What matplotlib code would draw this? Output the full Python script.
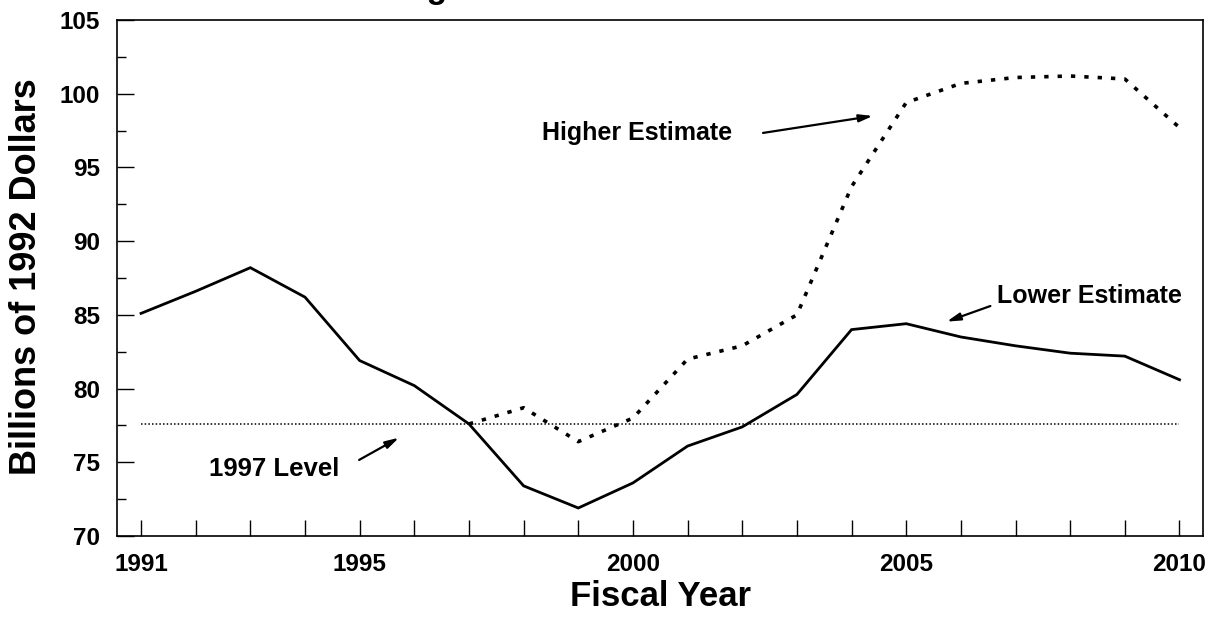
import matplotlib
matplotlib.use("Agg")
import matplotlib.pyplot as plt
from matplotlib.ticker import MultipleLocator

plt.rcParams['font.family'] = ['Liberation Sans', 'DejaVu Sans']

years = list(range(1991, 2011))
lower_estimate = [85.1, 86.6, 88.2, 86.2, 81.9, 80.2, 77.6, 73.4, 71.9, 73.6,
                  76.1, 77.4, 79.6, 84.0, 84.4, 83.5, 82.9, 82.4, 82.2, 80.6]
higher_years = list(range(1997, 2011))
higher_estimate = [77.6, 78.7, 76.4, 78.0, 82.0, 82.9, 85.0, 93.7, 99.4, 100.7,
                   101.1, 101.2, 101.0, 97.7]
level_1997 = 77.6

x_tick_labels = ['1991', '1995', '2000', '2005', '2010']
x_tick_label_pos = [1991, 1995, 2000, 2005, 2010]

fig = plt.figure(figsize=(12.18, 6.21), dpi=100)
ax = fig.add_axes([117/1218, 1 - 536/621, (1203 - 117)/1218, (536 - 20)/621])

ax.plot(years, lower_estimate, color='black', lw=2.0, solid_joinstyle='miter')
ax.plot(higher_years, higher_estimate, color='black', lw=2.6,
        linestyle=(0, (1.2, 2.5)), dash_capstyle='butt')
ax.plot([years[0], years[-1]], [level_1997, level_1997], color='black', lw=1.1,
        linestyle=(0, (1.0, 1.4)))

ax.set_xlim(1990.56, 2010.43)
ax.set_ylim(70, 105)

ax.set_xticks(years)
ax.set_xticklabels([x_tick_labels[x_tick_label_pos.index(y)] if y in x_tick_label_pos else ''
                    for y in years])
ax.yaxis.set_major_locator(MultipleLocator(5))
ax.yaxis.set_minor_locator(MultipleLocator(2.5))

ax.tick_params(axis='x', direction='in', length=11.5, width=1.0, pad=12,
               labelsize=17.5, top=False)
ax.tick_params(axis='y', which='major', direction='in', length=12, width=1.0,
               pad=12, labelsize=17.5, right=False)
ax.tick_params(axis='y', which='minor', direction='in', length=6.5, width=1.0,
               right=False)
for lab in ax.get_xticklabels() + ax.get_yticklabels():
    lab.set_fontweight('bold')

for s in ax.spines.values():
    s.set_linewidth(1.2)

fig.text(27/1218, 1 - 277/621, 'Billions of 1992 Dollars', rotation=90,
         ha='center', va='center', fontsize=26, fontweight='bold')
fig.text(660/1218, 1 - 597/621, 'Fiscal Year', ha='center', va='center',
         fontsize=25, fontweight='bold')

# title, cut off by the top edge of the page (only a descender shows)
fig.text(448/1218, 1 + 2/621, 'Funding', ha='right', va='baseline',
         fontsize=24, fontweight='bold')

arrow = dict(arrowstyle='-|>,head_length=0.8,head_width=0.22', lw=1.6,
             color='black', shrinkA=0, shrinkB=0)

ax.annotate('', xy=(2004.39, 98.49), xytext=(2002.38, 97.34), arrowprops=arrow)
ax.text(2001.81, 97.34, 'Higher Estimate', ha='right', va='center',
        fontsize=18, fontweight='bold')

ax.annotate('', xy=(2005.74, 84.54), xytext=(2006.54, 85.6), arrowprops=arrow)
ax.text(2006.66, 86.28, 'Lower Estimate', ha='left', va='center',
        fontsize=18, fontweight='bold')

ax.annotate('', xy=(1995.72, 76.67), xytext=(1994.99, 75.16), arrowprops=arrow)
ax.text(1993.44, 74.55, '1997 Level', ha='center', va='center',
        fontsize=18.5, fontweight='bold')

fig.savefig('out.png', dpi=100)
